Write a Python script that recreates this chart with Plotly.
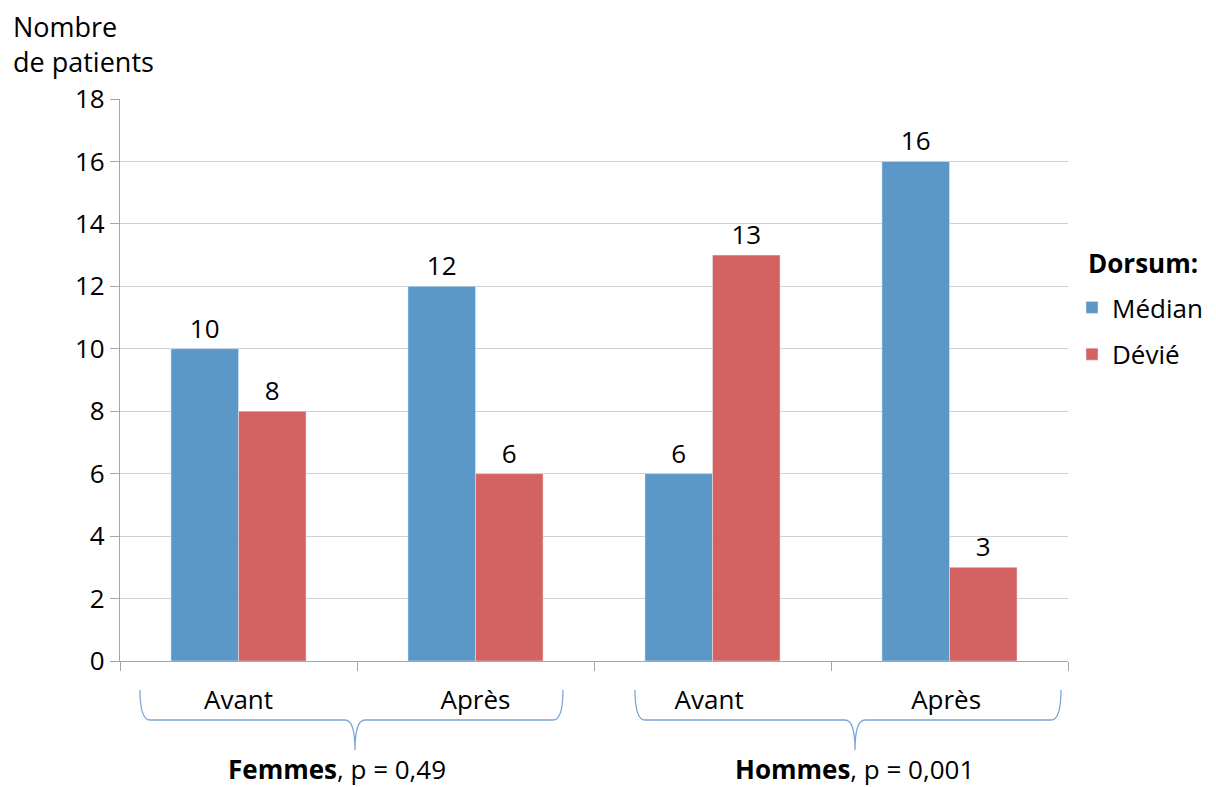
import plotly.graph_objects as go

categories = ["Avant", "Après", "Avant ", "Après "]
median_vals = [10, 12, 6, 16]
devie_vals = [8, 6, 13, 3]
yticks = [0, 2, 4, 6, 8, 10, 12, 14, 16, 18]

FONT = "'Open Sans', sans-serif"
BLUE = "#5B97C7"
RED = "#D46262"
FS = 26

fig = go.Figure()
fig.add_trace(go.Bar(x=categories, y=median_vals, name="Médian", marker_color=BLUE,
                     text=median_vals, textposition="outside", cliponaxis=False,
                     textfont=dict(size=FS, color="#000"), legendgroup="a"))
fig.add_trace(go.Bar(x=categories, y=devie_vals, name="Dévié", marker_color=RED,
                     text=devie_vals, textposition="outside", cliponaxis=False,
                     textfont=dict(size=FS, color="#000"), legendgroup="b"))

OFF = 8  # page body margin
W, H = 1216 - OFF, 787 - OFF
# reference pixel positions of the plot area
X0, X1, Y0, Y1 = 120, 1068, 99, 661
L, R, T, B = X0 - OFF, (1216 - X1), Y0 - OFF, (787 - Y1)
pw, ph = X1 - X0, Y1 - Y0

def px(x):
    return (x - X0) / pw

def py(y):
    return (Y1 - y) / ph

shapes = []
for (x0, x1, xt) in [(140, 563, 355), (635, 1061, 855)]:
    rx = 10 / pw
    a, b, c = px(x0), px(x1), px(xt)
    t, h, p = py(690), py(720), py(750)
    path = (f"M {a},{t} Q {a},{h} {a+rx},{h} L {c-rx},{h} Q {c},{h} {c},{p} "
            f"Q {c},{h} {c+rx},{h} L {b-rx},{h} Q {b},{h} {b},{t}")
    shapes.append(dict(type="path", path=path, xref="paper", yref="paper",
                       line=dict(color="#7BA7D7", width=1.3)))

annotations = [
    dict(text="Nombre<br>de patients", x=px(11), y=py(6), xref="paper", yref="paper",
         xanchor="left", yanchor="top", align="left", showarrow=False,
         font=dict(size=27, color="#000", family=FONT)),
    dict(text="<b>Femmes</b>, p = 0,49", x=px(337), y=py(769), xref="paper", yref="paper",
         xanchor="center", yanchor="middle", showarrow=False,
         font=dict(size=FS, color="#000", family=FONT)),
    dict(text="<b>Hommes</b>, p = 0,001", x=px(854), y=py(769), xref="paper", yref="paper",
         xanchor="center", yanchor="middle", showarrow=False,
         font=dict(size=FS, color="#000", family=FONT)),
    dict(text="<b>Dorsum:</b>", x=px(1086), y=py(263), xref="paper", yref="paper",
         xanchor="left", yanchor="middle", showarrow=False,
         font=dict(size=FS, color="#000", family=FONT)),
]

fig.update_layout(
    width=W, height=H,
    margin=dict(l=L, r=R, t=T, b=B, autoexpand=False),
    plot_bgcolor="white", paper_bgcolor="white",
    barmode="group", bargap=0.43, bargroupgap=0,
    font=dict(family=FONT, size=FS, color="#000"),
    showlegend=True,
    legend=dict(x=px(1072), y=py(284), xanchor="left", yanchor="top",
                font=dict(size=FS), tracegroupgap=10, traceorder="grouped",
                itemwidth=30, bgcolor="rgba(0,0,0,0)"),
    xaxis=dict(showgrid=False, showline=True, linecolor="#A6A6A6", linewidth=1.3,
               ticks="outside", tickson="boundaries", ticklen=9, tickcolor="#A6A6A6",
               tickwidth=1.3, ticklabelstandoff=16, tickfont=dict(size=FS)),
    yaxis=dict(range=[0, 18], tickvals=yticks, showgrid=True, gridcolor="#D0D0D0",
               gridwidth=1.3, showline=True, linecolor="#A6A6A6", linewidth=1.3,
               ticks="outside", ticklen=9, tickcolor="#A6A6A6", tickwidth=1.3,
               tickfont=dict(size=FS), zeroline=False),
    shapes=shapes,
    annotations=annotations,
)

fig.write_html("out.html")
